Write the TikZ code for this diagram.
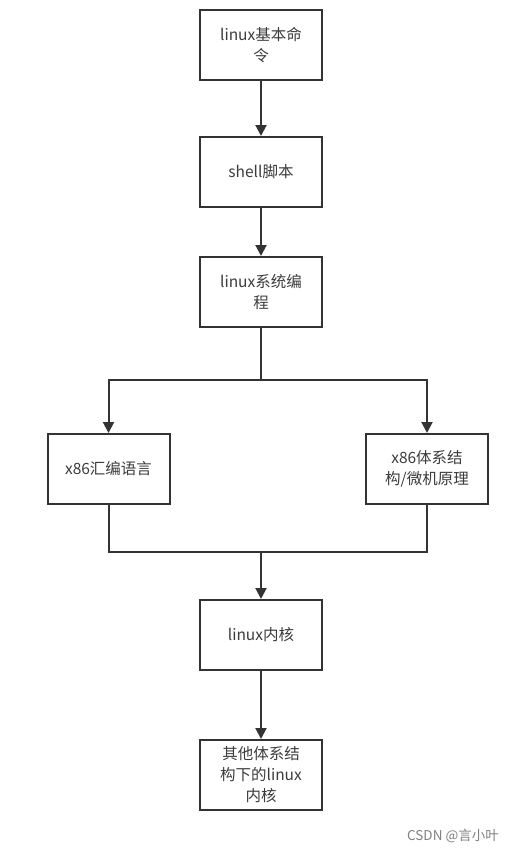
\documentclass[tikz,border=0pt]{standalone}
\usepackage{fontspec}
\setmainfont{Noto Sans CJK SC}
\usetikzlibrary{arrows.meta}
\definecolor{linegray}{HTML}{333333}
\definecolor{textgray}{HTML}{3C3C3C}
\tikzstyle{block} = [draw=linegray, line width=2pt, fill=white, minimum width=122pt, minimum height=70pt, inner sep=0pt, align=center, text=textgray, font=\fontsize{15.5}{21}\selectfont]
\tikzstyle{link} = [draw=linegray, line width=2pt]
\tikzstyle{arrow} = [link, -{Triangle[length=11pt, width=11pt]}]

\begin{document}
\begin{tikzpicture}[x=1pt, y=-1pt]
    \useasboundingbox (0,0) rectangle (515,852);
    \node (cmd) [block] at (261,45) {linux基本命\\令};
    \node (shell) [block] at (261,172) {shell脚本};
    \node (sys) [block] at (261,292) {linux系统编\\程};
    \node (asm) [block] at (108.5,469) {x86汇编语言};
    \node (arch) [block] at (427,469) {x86体系结\\构/微机原理};
    \node (kernel) [block] at (261,635) {linux内核};
    \node (other) [block] at (261,775) {其他体系结\\构下的linux\\内核};
    \coordinate (split) at (261,380);
    \coordinate (merge) at (261,552);
    \draw [arrow] (cmd) -- (shell);
    \draw [arrow] (shell) -- (sys);
    \draw [link] (sys) -- (split);
    \draw [arrow] (split) -| (asm);
    \draw [arrow] (split) -| (arch);
    \draw [link] (asm) |- (merge);
    \draw [link] (arch) |- (merge);
    \draw [arrow] (merge) -- (kernel);
    \draw [arrow] (kernel) -- (other);
    \node (mark) [text=gray, font=\fontsize{13.5}{15}\selectfont] at (453,836) {CSDN @言小叶};
\end{tikzpicture}
\end{document}
